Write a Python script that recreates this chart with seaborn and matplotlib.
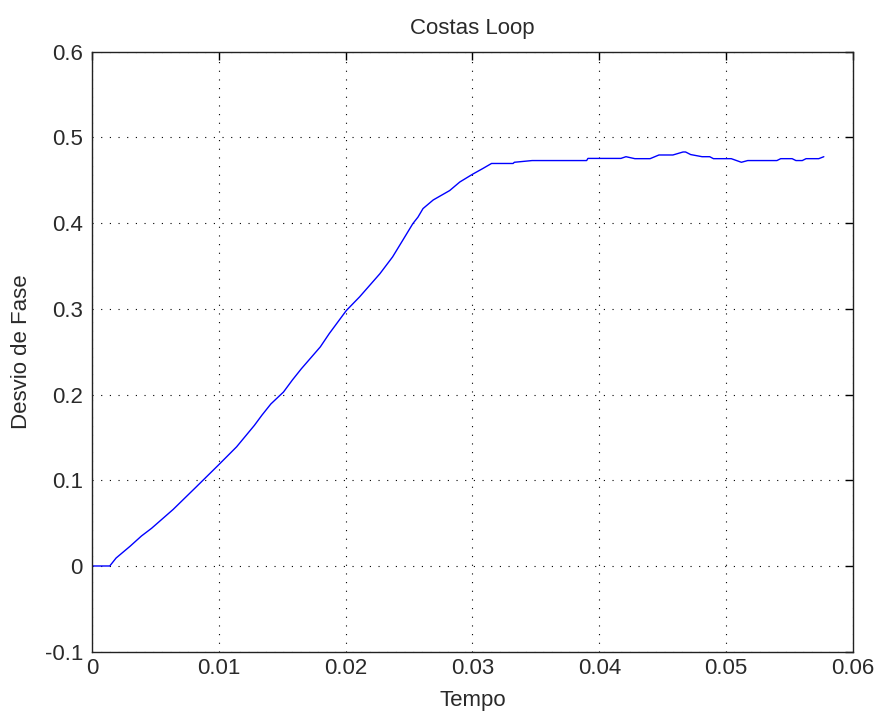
import matplotlib
matplotlib.use("Agg")
import matplotlib.pyplot as plt
import seaborn as sns
import pandas as pd

tempo = [0.0, 0.0014, 0.0019, 0.0030, 0.0039, 0.0047, 0.0064, 0.0082, 0.00995, 0.0114,
         0.0128, 0.0134, 0.0141, 0.0151, 0.0158, 0.0165, 0.0180, 0.0187, 0.02005, 0.0211,
         0.0227, 0.0237, 0.0245, 0.0253, 0.0257, 0.0261, 0.0269, 0.0282, 0.0290, 0.0300,
         0.0308, 0.0315, 0.0332, 0.0333, 0.0347, 0.0390, 0.0391, 0.0417, 0.0421, 0.0428,
         0.0440, 0.0447, 0.0458, 0.0466, 0.0468, 0.0472, 0.0481, 0.0487, 0.0490, 0.0504,
         0.0512, 0.0517, 0.0540, 0.0543, 0.0552, 0.0555, 0.0560, 0.0563, 0.0573, 0.0577]
desvio = [0.0, 0.0, 0.0093, 0.023, 0.035, 0.044, 0.066, 0.092, 0.1175, 0.139,
          0.164, 0.176, 0.189, 0.203, 0.217, 0.230, 0.2556, 0.271, 0.298, 0.314,
          0.341, 0.3606, 0.380, 0.3995, 0.407, 0.417, 0.427, 0.438, 0.448, 0.457,
          0.4636, 0.4696, 0.4696, 0.471, 0.473, 0.473, 0.4755, 0.4755, 0.4775, 0.4752,
          0.4752, 0.4795, 0.4795, 0.483, 0.483, 0.480, 0.4775, 0.4775, 0.4752, 0.4752,
          0.471, 0.473, 0.473, 0.4752, 0.4752, 0.473, 0.473, 0.4752, 0.4752, 0.4775]

xticks = [0, 0.01, 0.02, 0.03, 0.04, 0.05, 0.06]
xticklabels = ["0", "0.01", "0.02", "0.03", "0.04", "0.05", "0.06"]
yticks = [-0.1, 0, 0.1, 0.2, 0.3, 0.4, 0.5, 0.6]
yticklabels = ["-0.1", "0", "0.1", "0.2", "0.3", "0.4", "0.5", "0.6"]

sns.set_style("white")
plt.rcParams['font.family'] = ['Liberation Sans', 'DejaVu Sans']

df = pd.DataFrame({"Tempo": tempo, "Desvio de Fase": desvio})

fig = plt.figure(figsize=(8.76, 7.11), dpi=100)
ax = fig.add_axes([92/876, 1 - 651.7/711, (853 - 92)/876, (651.7 - 51.7)/711])
sns.lineplot(data=df, x="Tempo", y="Desvio de Fase", ax=ax, color="#0000ff", linewidth=1.0)

ax.set_xlim(0, 0.06)
ax.set_ylim(-0.1, 0.6)
ax.set_xticks(xticks)
ax.set_xticklabels(xticklabels)
ax.set_yticks(yticks)
ax.set_yticklabels(yticklabels)
ax.grid(True, linestyle=(0, (1, 6.8)), color="black", linewidth=0.8)
ax.tick_params(direction="in", length=6, width=1, colors="black", labelsize=16,
               top=True, right=True, labelcolor="#2a2a2a")
ax.tick_params(axis="x", pad=4.5)
ax.tick_params(axis="y", pad=6.5)
for s in ax.spines.values():
    s.set_color("#222222")
    s.set_linewidth(1.0)
ax.set_xlabel("Tempo", fontsize=16, color="#2a2a2a")
ax.set_ylabel("Desvio de Fase", fontsize=16, color="#2a2a2a")
ax.xaxis.set_label_coords(0.5, -0.064)
ax.yaxis.set_label_coords(-0.079, 0.5)
ax.set_title("Costas Loop", fontsize=16, pad=13, color="#2a2a2a")

fig.savefig("out.png", dpi=100, facecolor="white")
